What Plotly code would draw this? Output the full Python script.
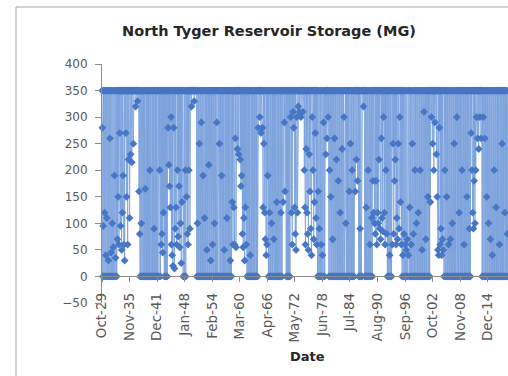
import pandas as pd
import plotly.graph_objects as go

# Monthly storage in million gallons, first value is Oct 1929
start_month = "1929-10-01"
storage_text = """
350 280 0
95 350 0 350 120 0 350 40 0 350 110 0
350 0 30 350 0 350 260 0 350 45 0 350
100 0 350 55 0 350 190 0 350 35 0 350
0 350 70 350 150 350 60 350 270 350 95 350
350 50 350 120 350 190 350 60 350 30 350 350
270 350 150 350 350 60 350 220 350 350 110 350
350 230 350 350 215 350 350 350 250 350 350 350
350 350 320 350 350 350 350 330 350 350 350 160
350 80 0 350 0 100 350 0 350 0 0 350
0 350 0 350 165 0 350 0 350 0 350 0
350 0 350 0 200 350 0 350 0 0 350 0
350 0 350 90 0 350 0 350 0 350 0 350
0 350 0 350 0 350 200 350 0 350 60 350
80 350 45 350 120 350 0 350 0 350 0 350
0 350 0 350 280 350 210 350 170 350 130 350
300 60 350 40 350 20 350 280 350 15 350 90
350 130 350 60 350 200 350 75 350 170 350 55
350 100 350 25 350 140 350 350 0 350 0 350
0 350 200 0 350 150 350 80 350 60 350 200
350 350 90 350 350 350 320 350 350 350 350 350
350 330 350 350 350 350 350 350 0 350 100 0
350 0 350 250 0 350 0 350 290 0 350 0
350 190 0 350 0 110 350 0 350 0 350 50
0 350 0 350 210 0 350 0 350 30 0 350
0 350 60 0 350 0 350 100 0 350 0 350
0 290 350 0 350 0 350 0 250 350 0 350
0 350 190 0 350 0 350 0 350 50 0 350
0 350 0 350 110 0 350 0 350 0 350 0
350 30 0 350 0 350 140 350 60 350 130 350
60 350 260 350 55 350 350 350 240 350 350 230
350 350 350 220 350 170 350 190 350 80 350 55
350 110 350 30 350 130 350 60 350 0 350 0
0 350 0 350 0 350 40 0 350 0 350 0
350 0 0 350 0 350 0 350 0 0 350 0
350 0 350 280 350 350 350 300 350 350 270 350
350 350 280 350 130 350 250 350 120 350 70 350
40 350 60 350 190 350 0 350 0 120 350 0
350 0 100 350 0 350 0 350 70 0 350 0
350 0 350 0 140 350 0 350 0 350 0 0
350 0 350 120 0 350 0 350 350 140 350 350
290 350 160 350 350 0 350 0 350 0 350 0
350 0 350 0 350 300 350 120 350 60 350 310
350 280 350 130 350 80 350 50 350 300 350 120
350 320 350 350 310 350 350 350 300 350 350 350
350 310 350 350 350 200 350 130 60 350 240 350
120 350 80 350 50 350 230 350 160 350 90 350
40 350 300 350 200 350 70 350 140 350 270 350
110 350 60 350 0 350 160 0 350 90 0 350
0 350 60 0 350 40 0 350 290 0 350 0
350 350 230 350 350 260 350 350 300 350 0 350
200 0 350 150 0 350 0 350 70 0 350 0
350 260 0 350 0 350 220 0 350 0 350 180
0 350 0 350 120 0 350 0 350 240 0 350
0 350 300 0 350 0 350 100 0 350 0 350
0 350 0 350 160 0 350 250 0 350 0 350
200 0 350 0 350 0 350 350 160 350 350 220
350 350 180 350 350 0 350 0 350 90 0 350
0 350 0 350 350 350 320 350 350 0 350 0
350 130 0 350 0 350 200 0 350 0 350 60
0 350 0 350 110 0 350 180 350 120 350 100
350 80 350 180 350 60 350 120 350 100 350 220
350 90 350 70 350 260 350 110 350 85 350 300
350 120 350 60 350 200 350 80 350 0 350 0
350 0 350 40 0 350 0 350 0 350 60 350
250 350 80 350 180 350 220 350 60 350 110 350
70 350 250 350 90 350 300 350 140 350 60 350
0 350 40 0 350 80 0 350 60 0 350 50
0 350 70 0 350 40 350 0 130 350 0 350
60 0 350 250 0 350 80 0 350 0 200 350
0 350 100 0 350 0 350 120 0 350 0 350
200 0 350 0 350 50 0 350 0 350 310 0
350 0 350 70 0 350 0 350 150 0 350 0
350 0 350 140 350 350 300 350 350 250 350 350
200 350 350 290 350 350 350 230 350 150 350 50
350 40 350 280 350 60 350 90 350 40 350 70
350 50 350 0 350 200 0 350 0 350 150 0
350 0 350 60 0 350 0 350 70 0 350 0
350 100 0 350 0 350 250 0 350 0 350 0
350 300 0 350 0 350 0 120 350 0 350 0
350 0 350 200 0 350 0 350 60 0 350 0
350 0 350 0 150 350 0 350 0 350 90 0
350 0 350 270 350 200 350 120 350 90 350 180
350 100 350 200 350 300 350 350 260 350 350 240
350 350 300 350 350 260 350 350 0 350 0 300
350 0 350 260 0 350 0 350 150 0 350 0
350 100 0 350 0 350 70 0 350 0 350 40
0 350 0 350 200 0 350 0 350 130 0 350
0 350 0 350 0 350 60 0 350 0 350 0
350 250 0 350 0 350 0 350 120 0 350 0
350 0 350 80 0 350 0 350 200 0 350 0
"""
storage_mg = [float(v) for v in storage_text.split()]
months = pd.date_range(start_month, periods=len(storage_mg), freq="MS")

# Category labels shown every 73 months
tick_labels = ["Oct-29", "Nov-35", "Dec-41", "Jan-48", "Feb-54", "Mar-60", "Apr-66",
               "May-72", "Jun-78", "Jul-84", "Aug-90", "Sep-96", "Oct-02", "Nov-08", "Dec-14"]
tick_dates = pd.date_range(start_month, periods=len(tick_labels), freq="73MS")

W, H = 508, 376
L, T, B = 102, 64, 73
plot_h = H - T - B
plot_w = W - L

fig = go.Figure()
fig.add_trace(go.Scatter(
    x=months, y=storage_mg, mode="lines+markers",
    line=dict(color="#78a0db", width=0.8),
    marker=dict(symbol="diamond", size=6, color="#4676c6"),
    cliponaxis=False, showlegend=False,
))

font_family = "DejaVu Sans"
ytick_font = dict(family=font_family, size=12, color="#595959")
xtick_font = dict(family=font_family, size=13.5, color="#595959")

fig.update_layout(
    width=W, height=H,
    margin=dict(l=L, r=0, t=T, b=B),
    paper_bgcolor="white", plot_bgcolor="white",
    title=dict(text="<b>North Tyger Reservoir Storage (MG)</b>",
               x=269 / W, xref="container", xanchor="center",
               y=1 - 31 / H, yref="container", yanchor="middle",
               font=dict(family=font_family, size=14.5, color="#262626")),
    xaxis=dict(
        type="date", range=["1929-10-01", "2019-05-20"],
        anchor="free", position=50 / 450,
        showline=True, linecolor="#8c8c8c", linewidth=1,
        ticks="outside", ticklen=5, tickcolor="#8c8c8c",
        tickvals=tick_dates, ticktext=tick_labels, tickangle=-90,
        tickfont=xtick_font, showgrid=False, zeroline=False,
        ticklabelstandoff=5,
    ),
    yaxis=dict(
        range=[-50, 400], dtick=50, tick0=0,
        showline=True, linecolor="#8c8c8c", linewidth=1,
        ticks="outside", ticklen=6, tickcolor="#8c8c8c",
        tickfont=ytick_font, showgrid=False, zeroline=False,
        ticklabelstandoff=5,
    ),
    annotations=[dict(
        text="<b>Date</b>", xref="paper", yref="paper",
        x=(307 - L) / plot_w, y=(H - B - 356) / plot_h,
        xanchor="center", yanchor="middle", showarrow=False,
        font=dict(family=font_family, size=13, color="#262626"),
    )],
    shapes=[
        dict(type="line", xref="paper", yref="paper",
             x0=(16 - L) / plot_w, x1=1.1,
             y0=(H - B - 7) / plot_h, y1=(H - B - 7) / plot_h,
             line=dict(color="#a6a6a6", width=1)),
        dict(type="line", xref="paper", yref="paper",
             x0=(16 - L) / plot_w, x1=(16 - L) / plot_w,
             y0=(H - B - 7) / plot_h, y1=-0.5,
             line=dict(color="#a6a6a6", width=1)),
    ],
)

fig.write_html("out.html")
